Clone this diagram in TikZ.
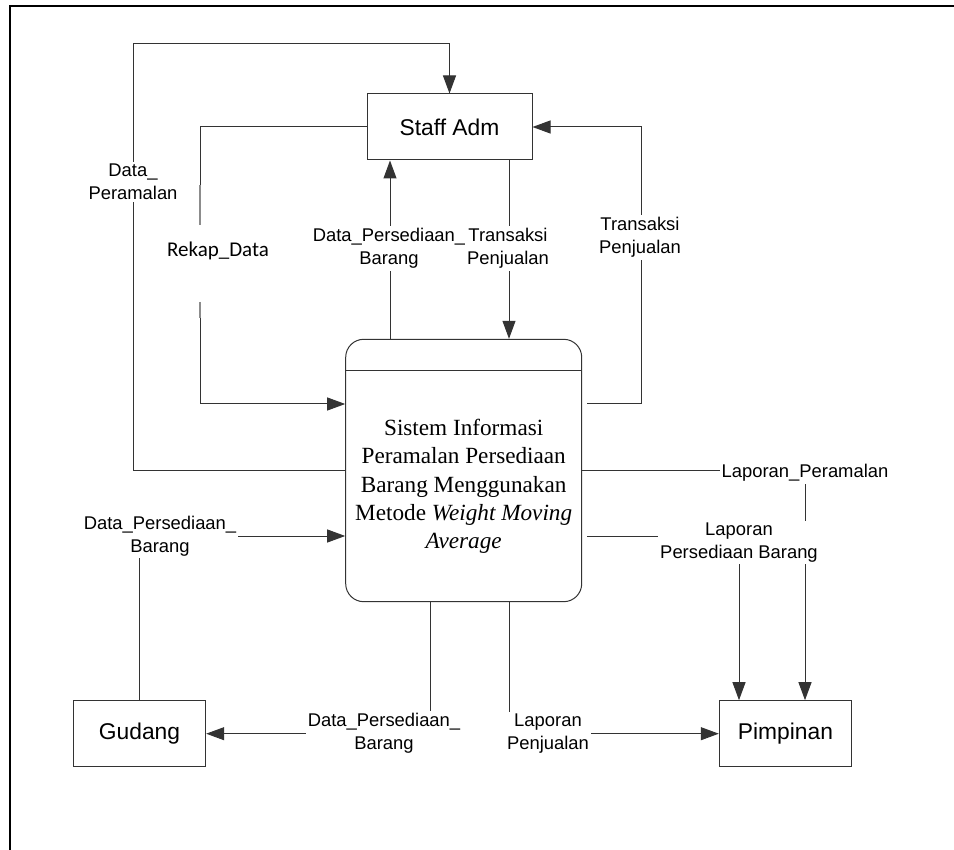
\documentclass[tikz,border=0pt]{standalone}
\usepackage{fontspec}
\setmainfont{Liberation Sans}
\newfontfamily\procfont{Liberation Serif}
\newfontfamily\rekapfont{Carlito}
\usetikzlibrary{arrows.meta}
\begin{document}
\begin{tikzpicture}[x=1pt,y=-1pt,
  entity/.style={draw=black!80, line width=1pt, minimum width=165pt, minimum height=66pt,
    inner sep=0pt, font=\fontsize{22.8}{27}\selectfont},
  flowline/.style={draw=black!80, line width=1pt},
  flow/.style={flowline, -{Triangle[length=18pt,width=13pt]}},
  greyseg/.style={draw=black!45, line width=2pt},
  flowlabel/.style={fill=white, inner sep=2pt, align=center, font=\fontsize{18.4}{23}\selectfont},
]
\useasboundingbox (0,0) rectangle (954,850);

% page frame (left and top edges)
\draw[line width=1.8pt] (10.2,870) -- (10.2,6) -- (970,6);

% external entities and the process
\node[entity] (staff) at (449.5,127) {Staff Adm};
\node[entity, minimum width=132.4pt] (gudang) at (139.5,733.7) {Gudang};
\node[entity, minimum width=132.4pt] (pimpinan) at (785.5,733.7) {Pimpinan};
\node[draw=black!80, line width=1pt, rounded corners=18pt, minimum width=236pt,
      minimum height=262.4pt, inner sep=0pt] (proc) at (463.7,470.5) {};
\coordinate (divy) at (0,371);
\draw[flowline] (proc.west |- divy) -- (proc.east |- divy);
\node[align=center, font=\procfont\fontsize{23.2}{28.3}\selectfont] (proctext) at (463.7,486.5)
  {Sistem Informasi\\Peramalan Persediaan\\Barang Menggunakan\\Metode \textit{Weight Moving}\\\textit{Average}};

% helper coordinates
\coordinate (dpcorner) at (133,44);
\coordinate (rk1) at (200,185);
\coordinate (rk2) at (200,225);
\coordinate (rk3) at (200,302);
\coordinate (rk4) at (200,318);
\coordinate (rk5) at (200,404);
\coordinate (xdp) at (390,0);
\coordinate (xtr) at (509,0);
\coordinate (tr0) at (587,404);
\coordinate (tr1) at (641,127);
\coordinate (xlp) at (805,0);
\coordinate (lpb0) at (587,536);
\coordinate (xlpb) at (739,0);
\coordinate (ydp) at (0,536);
\coordinate (xdpb) at (430,0);

% Data_Peramalan
\draw[flow] (proc.west) -| (dpcorner) -| (staff.north);
% Rekap_Data
\draw[flowline] (staff.west) -| (rk1);
\draw[greyseg] (rk1) -- (rk2);
\draw[greyseg] (rk3) -- (rk4);
\draw[flow] (rk4) |- (proc.west |- rk5);
% Data_Persediaan_Barang up to Staff Adm
\draw[flow] (proc.north -| xdp) -- (staff.south -| xdp);
% Transaksi Penjualan down to the process
\draw[flow] (staff.south -| xtr) -- (proc.north -| xtr);
% Transaksi Penjualan back to Staff Adm
\draw[flow] (tr0) -| (tr1) -- (staff.east);
% Laporan_Peramalan
\draw[flow] (proc.east) -| (pimpinan.north -| xlp);
% Laporan Persediaan Barang
\draw[flow] (lpb0) -| (pimpinan.north -| xlpb);
% Data_Persediaan_Barang from Gudang
\draw[flow] (gudang.north) |- (proc.west |- ydp);
% Data_Persediaan_Barang to Gudang
\draw[flow] (proc.south -| xdpb) |- (gudang.east);
% Laporan Penjualan
\draw[flow] (proc.south -| xtr) |- (pimpinan.west);

% flow labels
\node[flowlabel] (l1) at (133,182) {Data\_\\Peramalan};
\node[font=\rekapfont\fontsize{21}{25}\selectfont] (l2) at (218,251) {Rekap\_Data};
\node[flowlabel] (l3) at (389,248.5) {Data\_Persediaan\_\\Barang};
\node[flowlabel] (l4) at (508,248.5) {Transaksi\\Penjualan};
\node[flowlabel] (l5) at (640,237.5) {Transaksi\\Penjualan};
\node[flowlabel] (l6) at (805,473) {Laporan\_Peramalan};
\node[flowlabel] (l7) at (739,542.5) {Laporan\\Persediaan Barang};
\node[flowlabel] (l8) at (160,536) {Data\_Persediaan\_\\Barang};
\node[flowlabel] (l9) at (384,733.5) {Data\_Persediaan\_\\Barang};
\node[flowlabel] (l10) at (548,734) {Laporan\\Penjualan};
\end{tikzpicture}
\end{document}
